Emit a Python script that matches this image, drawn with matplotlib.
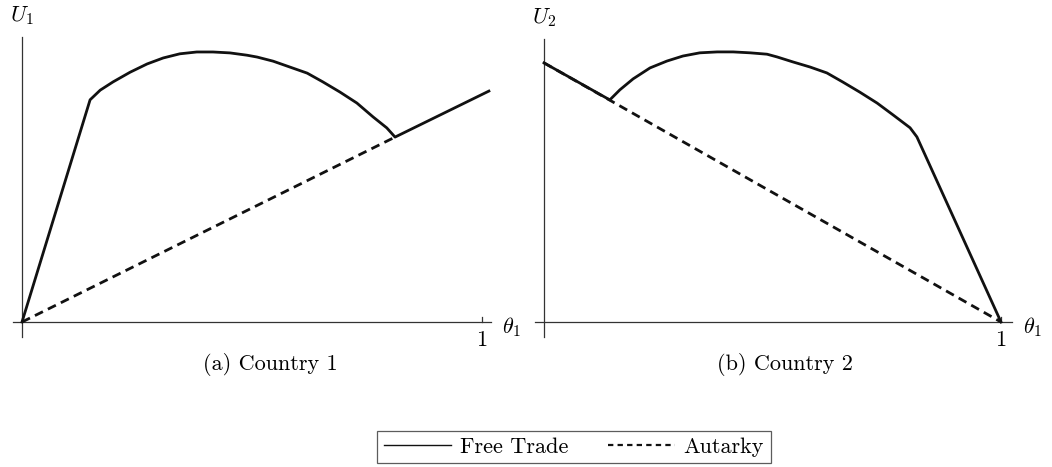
"""Welfare under free trade vs autarky for two countries, as a function of theta_1."""

import matplotlib.pyplot as plt
from matplotlib.lines import Line2D

# Country 1: welfare U1 against theta_1
THETA_FREE_1 = [0.0, 0.148, 0.170, 0.198, 0.235, 0.272, 0.307, 0.343, 0.380, 0.415, 0.452,
                0.489, 0.511, 0.546, 0.583, 0.620, 0.654, 0.691, 0.728, 0.763, 0.793, 0.811, 1.015]
U_FREE_1 = [0.0, 0.483, 0.504, 0.522, 0.543, 0.561, 0.574, 0.583, 0.587, 0.587, 0.585,
            0.580, 0.576, 0.567, 0.554, 0.541, 0.522, 0.500, 0.476, 0.446, 0.422, 0.402, 0.502]
THETA_AUT_1 = [0.0, 0.811]
U_AUT_1 = [0.0, 0.402]

# Country 2: welfare U2 against theta_1
THETA_FREE_2 = [0.0, 0.144, 0.166, 0.195, 0.232, 0.269, 0.304, 0.341, 0.379, 0.414, 0.451,
                0.488, 0.510, 0.545, 0.582, 0.619, 0.654, 0.691, 0.729, 0.764, 0.801, 0.816, 1.0]
U_FREE_2 = [0.567, 0.486, 0.508, 0.532, 0.556, 0.571, 0.582, 0.589, 0.591, 0.591, 0.589,
            0.586, 0.580, 0.569, 0.558, 0.545, 0.525, 0.503, 0.479, 0.453, 0.425, 0.405, 0.0]
THETA_AUT_2 = [0.0, 1.0]
U_AUT_2 = [0.567, 0.0]

CAPTIONS = ["(a) Country 1", "(b) Country 2"]
Y_LABELS = [r"$U_1$", r"$U_2$"]

plt.rcParams["font.family"] = "serif"
plt.rcParams["font.serif"] = ["cmr10", "DejaVu Serif"]
plt.rcParams["mathtext.fontset"] = "cm"
plt.rcParams["axes.unicode_minus"] = False

W, H = 1052, 467
fig = plt.figure(figsize=(W / 100, H / 100), dpi=100)

LW = 2.0
DASH = (0, (3.2, 2.0))
INK = "#111111"
FS = 16


def make_axes(left_px, right_px, origin_px, scale):
    ax = fig.add_axes([left_px / W, 0, (right_px - left_px) / W, 1])
    ax.set_xlim((left_px - origin_px) / scale, (right_px - origin_px) / scale)
    ax.set_ylim((322 - H) / scale, 322 / scale)
    ax.axis("off")
    return ax


def draw_panel(ax, theta_free, u_free, theta_aut, u_aut, ylabel, x_end):
    axis_kw = dict(color="#333333", lw=0.9, zorder=1)
    ax.plot([-0.02, x_end], [0, 0], **axis_kw)
    ax.plot([0, 0], [-0.033, 0.62], **axis_kw)
    ax.plot([1.0, 1.0], [0, 0.011], **axis_kw)
    ax.plot(theta_aut, u_aut, color=INK, lw=LW, linestyle=DASH, zorder=2)
    ax.plot(theta_free, u_free, color=INK, lw=LW, solid_joinstyle="round", zorder=3)
    ax.text(0, 0.667, ylabel, ha="center", va="center", fontsize=FS)
    ax.text(1.0, -0.040, "1", ha="center", va="center", fontsize=FS)
    ax.text(x_end + 0.045, -0.012, r"$\theta_1$", ha="center", va="center", fontsize=FS)


ax1 = make_axes(0, 526, 22, 460)
draw_panel(ax1, THETA_FREE_1, U_FREE_1, THETA_AUT_1, U_AUT_1, Y_LABELS[0], 1.02)

ax2 = make_axes(526, 1052, 544, 457)
draw_panel(ax2, THETA_FREE_2, U_FREE_2, THETA_AUT_2, U_AUT_2, Y_LABELS[1], 1.025)

fig.text(270 / W, 1 - 365 / H, CAPTIONS[0], ha="center", va="center", fontsize=FS)
fig.text(785 / W, 1 - 365 / H, CAPTIONS[1], ha="center", va="center", fontsize=FS)

handles = [
    Line2D([], [], color=INK, lw=1.0),
    Line2D([], [], color=INK, lw=1.6, linestyle=(0, (2.4, 1.9))),
]
leg = fig.legend(
    handles, ["Free Trade", "Autarky"],
    loc="center", bbox_to_anchor=(574 / W, 1 - 447 / H), ncol=2,
    fontsize=FS, frameon=True, fancybox=False, handlelength=3.0,
    columnspacing=1.8, handletextpad=0.4, borderpad=0.3, borderaxespad=0.0,
)
leg.get_frame().set_edgecolor("#333333")
leg.get_frame().set_linewidth(0.9)

fig.savefig("out.png", dpi=100)
